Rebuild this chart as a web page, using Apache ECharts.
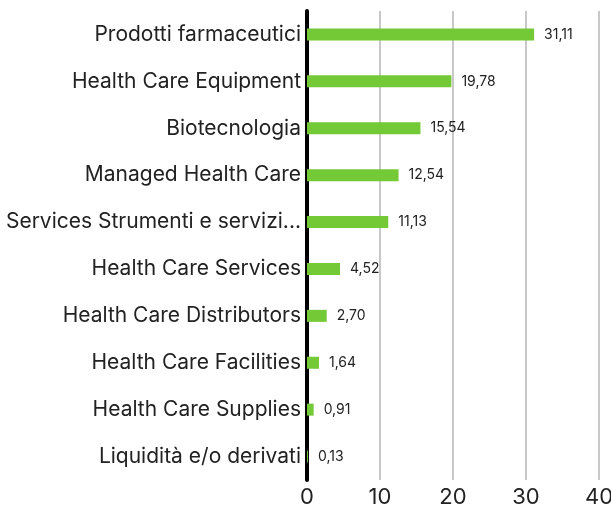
<!DOCTYPE html>
<html>
<head>
<meta charset="utf-8">
<script src="https://cdn.jsdelivr.net/npm/echarts@6/dist/echarts.min.js"></script>
<style>
html,body{margin:0;padding:0;background:#fff;}
#main{width:611px;height:508px;}
</style>
</head>
<body>
<div id="main"></div>
<script>
// categories top to bottom
var categories=['Prodotti farmaceutici','Health Care Equipment','Biotecnologia','Managed Health Care',
    'Services Strumenti e servizi...','Health Care Services','Health Care Distributors',
    'Health Care Facilities','Health Care Supplies','Liquidità e/o derivati'];
var values=[31.11,19.78,15.54,12.54,11.13,4.52,2.70,1.64,0.91,0.13];
var xTicks=[0,10,20,30,40];

var myChart=echarts.init(document.getElementById('main'));
var option={
    animation:false,
    grid:{left:307,right:12,top:11,bottom:28,containLabel:false,outerBoundsMode:'none'},
    xAxis:{
        type:'value',
        min:xTicks[0],
        max:xTicks[xTicks.length-1],
        interval:10,
        axisLine:{show:false},
        axisTick:{show:false},
        axisLabel:{color:'#222',fontSize:22,fontFamily:'Inter',margin:6},
        splitLine:{lineStyle:{color:'#c8c8c8',width:2}}
    },
    yAxis:{
        type:'category',
        inverse:true,
        data:categories,
        axisLine:{lineStyle:{color:'#000',width:4}},
        axisTick:{show:false},
        axisLabel:{color:'#222',fontSize:21,fontFamily:'Inter',margin:6}
    },
    series:[{
        type:'bar',
        data:values,
        barWidth:12,
        itemStyle:{color:'#73c936'},
        label:{
            show:true,
            position:'right',
            distance:10,
            color:'#222',
            fontSize:14,
            fontFamily:'Inter',
            formatter:function(p){return p.value.toFixed(2).replace('.',',');}
        }
    }]
};
myChart.setOption(option);
</script>
</body>
</html>
